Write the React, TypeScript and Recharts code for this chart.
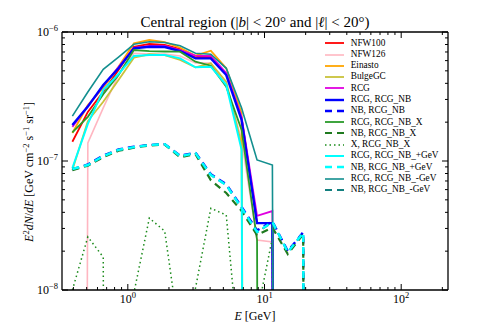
import React from 'react';
import { LineChart, Line, XAxis, YAxis, Legend } from 'recharts';

// A flux of zero: matplotlib clips it far below the log axis, so the line drops vertically.
const ZERO = 1e-40;

// Energy bin centres [GeV]
const energyGeV = [0.393, 0.51, 0.661, 0.855, 1.108, 1.437, 1.862, 2.414, 3.125, 4.05, 5.25, 6.8, 8.82, 11.42, 14.8, 19.19, 24.9];

// E^2 dN/dE [GeV cm^-2 s^-1 sr^-1]
const nfw100 = [1.41e-7, 2.4e-7, 3.44e-7, 5.08e-7, 7.69e-7, 8.07e-7, 7.93e-7, 7.38e-7, 6.4e-7, 6.4e-7, 4.72e-7, 2.15e-7, 3.3e-8, 3.3e-8, ZERO, ZERO, ZERO];
const nfw126 = [ZERO, 1.38e-7, 2.58e-7, 4.64e-7, 6.84e-7, 6.75e-7, 6.75e-7, 6.52e-7, 5.75e-7, 5.75e-7, 3.88e-7, 1.45e-7, 2.44e-8, 2.36e-8, ZERO, ZERO, ZERO];
const einasto = [1.65e-7, 2.72e-7, 3.68e-7, 5.38e-7, 8.18e-7, 8.67e-7, 8.36e-7, 7.55e-7, 6.55e-7, 7.16e-7, 5.23e-7, 2.35e-7, ZERO, ZERO, ZERO, ZERO, ZERO];
const bulgeGC = [8.51e-8, 2.04e-7, 2.88e-7, 4.24e-7, 6.32e-7, 6.72e-7, 6.63e-7, 6.07e-7, 5.32e-7, 5.72e-7, 4.1e-7, 1.33e-7, ZERO, ZERO, ZERO, ZERO, ZERO];
const rcg = [1.84e-7, 2.67e-7, 3.82e-7, 5.35e-7, 7.55e-7, 7.79e-7, 7.79e-7, 7.25e-7, 6.55e-7, 6.52e-7, 4.81e-7, 2.19e-7, 3.75e-8, 4.09e-8, ZERO, ZERO, ZERO];
const rcgRcgNB = [1.9e-7, 2.64e-7, 3.88e-7, 5.23e-7, 7.47e-7, 7.69e-7, 7.65e-7, 7.12e-7, 6.25e-7, 6.25e-7, 4.64e-7, 2.08e-7, 3.3e-8, 3.3e-8, ZERO, ZERO, ZERO];
const nbRcgNB = [8.6e-8, 9.4e-8, 1.1e-7, 1.23e-7, 1.29e-7, 1.33e-7, 1.35e-7, 1.1e-7, 1.16e-7, 7.9e-8, 6.6e-8, 4.4e-8, 2.9e-8, 3.4e-8, 2.0e-8, 2.8e-8, ZERO];
const rcgRcgNBX = [1.67e-7, 2.2e-7, 3.29e-7, 4.64e-7, 7.25e-7, 7.12e-7, 7.06e-7, 7.04e-7, 5.89e-7, 5.48e-7, 3.77e-7, 1.74e-7, 2.45e-8, ZERO, ZERO, ZERO, ZERO];
const nbRcgNBX = [8.5e-8, 9.2e-8, 1.07e-7, 1.2e-7, 1.27e-7, 1.32e-7, 1.34e-7, 1.07e-7, 1.13e-7, 7.1e-8, 5.65e-8, 4.1e-8, 2.67e-8, 3.05e-8, 1.9e-8, 2.7e-8, ZERO];
const xRcgNBX = [1.0e-8, 2.58e-8, 1.8e-8, ZERO, 9.5e-9, 3.61e-8, 2.86e-8, 4.1e-9, 1.03e-8, 4.3e-8, 3.81e-8, 1.9e-9, 6.5e-9, 2.53e-8, ZERO, ZERO, ZERO];
const rcgPlusGeV = [8.83e-8, 1.94e-7, 3.55e-7, 4.72e-7, 6.52e-7, 6.63e-7, 6.63e-7, 6.25e-7, 5.32e-7, 5.38e-7, 3.88e-7, 1.22e-7, ZERO, ZERO, ZERO, ZERO, ZERO];
const nbPlusGeV = [8.67e-8, 9.31e-8, 1.09e-7, 1.22e-7, 1.28e-7, 1.33e-7, 1.35e-7, 1.09e-7, 1.15e-7, 7.78e-8, 6.51e-8, 4.32e-8, 2.82e-8, 3.37e-8, 1.97e-8, 2.77e-8, ZERO];
const rcgMinusGeV = [2.23e-7, 3.43e-7, 5.14e-7, 6.4e-7, 8.03e-7, 8.41e-7, 8.29e-7, 7.83e-7, 6.84e-7, 6.72e-7, 5.23e-7, 2.58e-7, 1.02e-7, 9.31e-8, ZERO, ZERO, ZERO];
const nbMinusGeV = [8.7e-8, 9.3e-8, 1.09e-7, 1.22e-7, 1.28e-7, 1.33e-7, 1.35e-7, 1.09e-7, 1.15e-7, 7.8e-8, 6.5e-8, 4.3e-8, 2.8e-8, 3.35e-8, 1.97e-8, 2.77e-8, ZERO];

const seriesLabels = [
  'NFW100', 'NFW126', 'Einasto', 'BulgeGC', 'RCG', 'RCG, RCG_NB', 'NB, RCG_NB',
  'RCG, RCG_NB_X', 'NB, RCG_NB_X', 'X, RCG_NB_X', 'RCG, RCG_NB_+GeV', 'NB, RCG_NB_+GeV',
  'RCG, RCG_NB_-GeV', 'NB, RCG_NB_-GeV',
];
const seriesValues = [
  nfw100, nfw126, einasto, bulgeGC, rcg, rcgRcgNB, nbRcgNB,
  rcgRcgNBX, nbRcgNBX, xRcgNBX, rcgPlusGeV, nbPlusGeV, rcgMinusGeV, nbMinusGeV,
];
// order in which the series are painted (later = on top)
const drawOrder = [0, 1, 2, 3, 4, 5, 6, 7, 8, 9, 10, 12, 13, 11];

// styles
const seriesStyles = [
  { color: '#ff0000', width: 1.8 },
  { color: '#ffb6c1', width: 1.6 },
  { color: '#ffa500', width: 1.8 },
  { color: '#c9c23a', width: 1.8 },
  { color: '#e000e0', width: 1.8 },
  { color: '#0000ff', width: 2.4 },
  { color: '#0000ff', width: 2.4, dash: '7 5' },
  { color: '#2a9a2a', width: 1.8 },
  { color: '#1f7a1f', width: 2.2, dash: '7 5' },
  { color: '#1a8a1a', width: 1.5, dash: '1.5 3' },
  { color: '#00ffff', width: 2 },
  { color: '#00ffff', width: 2.4, dash: '7 5' },
  { color: '#138f8f', width: 1.6 },
  { color: '#137f7f', width: 2, dash: '7 5' },
];

const xTicks = [0.4, 0.5, 0.6, 0.7, 0.8, 0.9, 1, 2, 3, 4, 5, 6, 7, 8, 9, 10, 20, 30, 40, 50, 60, 70, 80, 90, 100, 200];
const xMajor = [1, 10, 100];
const xMajorExp = ['0', '1', '2'];
const yTicks = [1e-8, 2e-8, 3e-8, 4e-8, 5e-8, 6e-8, 7e-8, 8e-8, 9e-8, 1e-7, 2e-7, 3e-7, 4e-7, 5e-7, 6e-7, 7e-7, 8e-7, 9e-7, 1e-6];
const yMajor = [1e-8, 1e-7, 1e-6];
const yMajorExp = ['\u22128', '\u22127', '\u22126'];

const FONT = "'Liberation Serif', 'Times New Roman', serif";

const data = energyGeV.map((E, i) => {
  const row: Record<string, number> = { E };
  seriesValues.forEach((vals, k) => {
    row['s' + k] = vals[i];
  });
  return row;
});

const majorIndex = (v: number, majors: number[]) =>
  majors.findIndex((m) => Math.abs(v - m) / m < 1e-6);

const MAJ = 6;
const MIN = 3;

const XBottomTick = (props: any) => {
  const { x, y, payload } = props;
  const mi = majorIndex(payload.value, xMajor);
  return (
    <g>
      <line x1={x} x2={x} y1={y} y2={y - (mi >= 0 ? MAJ : MIN)} stroke="#000" strokeWidth={1} />
      {mi >= 0 && (
        <text x={x} y={y + 13} textAnchor="middle" fontFamily={FONT} fontSize={12} fill="#000">
          10<tspan dy={-5} fontSize={8.5}>{xMajorExp[mi]}</tspan>
        </text>
      )}
    </g>
  );
};

const XTopTick = (props: any) => {
  const { x, y, payload } = props;
  const mi = majorIndex(payload.value, xMajor);
  return <line x1={x} x2={x} y1={y} y2={y + (mi >= 0 ? MAJ : MIN)} stroke="#000" strokeWidth={1} />;
};

const YLeftTick = (props: any) => {
  const { x, y, payload } = props;
  const mi = majorIndex(payload.value, yMajor);
  return (
    <g>
      <line x1={x} x2={x + (mi >= 0 ? MAJ : MIN)} y1={y} y2={y} stroke="#000" strokeWidth={1} />
      {mi >= 0 && (
        <text x={x - 4} y={y + 4} textAnchor="end" fontFamily={FONT} fontSize={12} fill="#000">
          10<tspan dy={-5} fontSize={8.5}>{yMajorExp[mi]}</tspan>
        </text>
      )}
    </g>
  );
};

const YRightTick = (props: any) => {
  const { x, y, payload } = props;
  const mi = majorIndex(payload.value, yMajor);
  return <line x1={x} x2={x - (mi >= 0 ? MAJ : MIN)} y1={y} y2={y} stroke="#000" strokeWidth={1} />;
};

const TitleLabel = () => (
  <text x={255} y={27} textAnchor="middle" fontFamily={FONT} fontSize={15} fill="#000">
    Central region (|<tspan fontStyle="italic">b</tspan>| {'<'} 20° and |<tspan fontStyle="italic">ℓ</tspan>| {'<'} 20°)
  </text>
);

const XLabel = () => (
  <text x={255} y={320} textAnchor="middle" fontFamily={FONT} fontSize={12} fill="#000">
    <tspan fontStyle="italic">E</tspan> [GeV]
  </text>
);

const YLabel = () => (
  <text transform="translate(33,172) rotate(-90)" textAnchor="middle" fontFamily={FONT} fontSize={12} fill="#000">
    <tspan fontStyle="italic">E</tspan>
    <tspan dy={-4} fontSize={8.5}>2</tspan>
    <tspan dy={4} fontStyle="italic">dN</tspan>
    <tspan>/</tspan>
    <tspan fontStyle="italic">dE</tspan>
    <tspan> [GeV cm</tspan>
    <tspan dy={-4} fontSize={8.5}>{'\u22122'}</tspan>
    <tspan dy={4}> s</tspan>
    <tspan dy={-4} fontSize={8.5}>{'\u22121'}</tspan>
    <tspan dy={4}> sr</tspan>
    <tspan dy={-4} fontSize={8.5}>{'\u22121'}</tspan>
    <tspan dy={4}>]</tspan>
  </text>
);

const LegendBox = () => (
  <div style={{ fontFamily: FONT, fontSize: 9.3, color: '#000' }}>
    {seriesLabels.map((name, k) => {
      const st = seriesStyles[k];
      return (
        <div key={name} style={{ display: 'flex', alignItems: 'center', height: 11.28, whiteSpace: 'nowrap' }}>
          <svg width={25.7} height={6} style={{ flex: 'none', display: 'block' }}>
            <line x1={0} x2={19} y1={3} y2={3} stroke={st.color} strokeWidth={st.width} strokeDasharray={st.dash} />
          </svg>
          <span style={{ lineHeight: '11.28px' }}>{name}</span>
        </div>
      );
    })}
  </div>
);

export default function App() {
  return (
    <div style={{ position: 'absolute', left: 0, top: 0, width: 498, height: 332, background: '#fff' }}>
      <LineChart width={498} height={332} data={data} margin={{ top: 0, right: 0, bottom: 0, left: 0 }}>
        <XAxis
          xAxisId="b"
          dataKey="E"
          type="number"
          scale="log"
          domain={[0.33, 220]}
          allowDataOverflow
          ticks={xTicks}
          interval={0}
          height={42}
          tickSize={0}
          tickMargin={0}
          tick={<XBottomTick />}
          axisLine={{ stroke: '#000', strokeWidth: 1.3 }}
          tickLine={false}
          label={<XLabel />}
        />
        <XAxis
          xAxisId="t"
          orientation="top"
          dataKey="E"
          type="number"
          scale="log"
          domain={[0.33, 220]}
          allowDataOverflow
          ticks={xTicks}
          interval={0}
          height={32}
          tickSize={0}
          tickMargin={0}
          tick={<XTopTick />}
          axisLine={{ stroke: '#000', strokeWidth: 1.3 }}
          tickLine={false}
          label={<TitleLabel />}
        />
        <YAxis
          yAxisId="l"
          type="number"
          scale="log"
          domain={[1e-8, 1e-6]}
          allowDataOverflow
          ticks={yTicks}
          interval={0}
          width={62}
          tickSize={0}
          tickMargin={0}
          tick={<YLeftTick />}
          axisLine={{ stroke: '#000', strokeWidth: 1.3 }}
          tickLine={false}
          label={<YLabel />}
        />
        <YAxis
          yAxisId="r"
          orientation="right"
          type="number"
          scale="log"
          domain={[1e-8, 1e-6]}
          allowDataOverflow
          ticks={yTicks}
          interval={0}
          width={50}
          tickSize={0}
          tickMargin={0}
          tick={<YRightTick />}
          axisLine={{ stroke: '#000', strokeWidth: 1.3 }}
          tickLine={false}
        />
        {drawOrder.map((k) => (
          <Line
            key={seriesLabels[k]}
            xAxisId="b"
            yAxisId="l"
            type="linear"
            dataKey={'s' + k}
            name={seriesLabels[k]}
            stroke={seriesStyles[k].color}
            strokeWidth={seriesStyles[k].width}
            strokeDasharray={seriesStyles[k].dash}
            dot={false}
            activeDot={false}
            isAnimationActive={false}
          />
        ))}
        <Legend
          layout="vertical"
          align="center"
          verticalAlign="middle"
          content={<LegendBox />}
          wrapperStyle={{ position: 'absolute', left: 325, top: 37.7, width: 130, height: 'auto' }}
        />
      </LineChart>
    </div>
  );
}
